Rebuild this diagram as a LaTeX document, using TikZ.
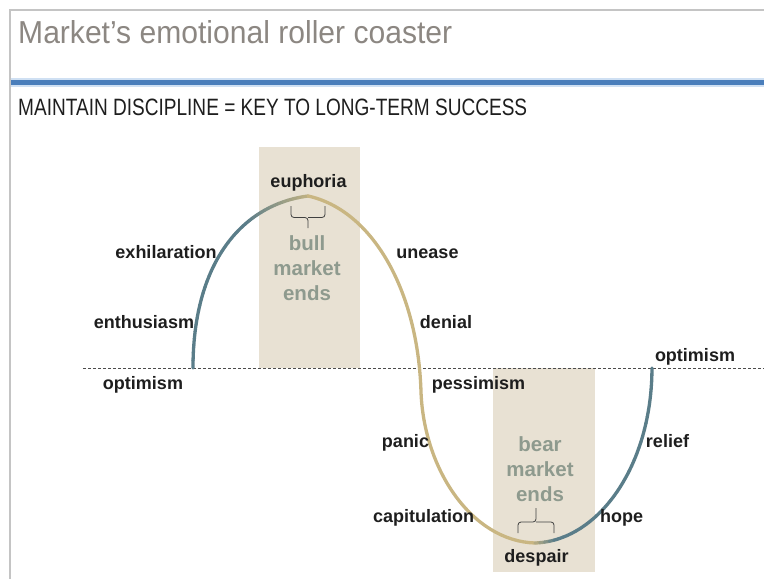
\documentclass[tikz,border=0pt]{standalone}
\usepackage{graphicx}
\usepackage{fontspec}
\setmainfont{Liberation Sans}
\definecolor{framegray}{HTML}{C4C4C4}
\definecolor{titlegray}{HTML}{8C8782}
\definecolor{barblue}{HTML}{4A7EBB}
\definecolor{barhalo}{HTML}{CFE0F3}
\definecolor{boxbeige}{HTML}{E8E1D3}
\definecolor{curveblue}{HTML}{5A7D89}
\definecolor{curvetan}{HTML}{C9B682}
\definecolor{endsgray}{HTML}{8E9A8E}
\definecolor{labelblack}{HTML}{1E1E1E}
\tikzset{
  lbl/.style={font=\fontsize{18}{20}\selectfont\bfseries, text=labelblack, inner sep=0pt, anchor=mid},
  endslbl/.style={font=\fontsize{20.5}{25}\selectfont\bfseries, text=endsgray, inner sep=0pt, align=center},
  curve/.style={line width=3.3pt, line cap=round, line join=round},
  bracebox/.style={draw=black!75, line width=0.8pt, rounded corners=3pt},
  shade/.style={fill=boxbeige, draw=none}
}
\begin{document}
\begin{tikzpicture}[x=1pt,y=1pt]
\useasboundingbox (0,0) rectangle (764,-579);
% frame
\draw[framegray, line width=2.5pt] (10,-579) -- (10,-10) -- (764,-10);
% title
\node[anchor=base west, inner sep=0pt, text=titlegray] (title) at (18,-43)
  {\resizebox{434pt}{23pt}{\fontsize{28}{30}\selectfont Market’s emotional roller coaster}};
% blue bar
\fill[barhalo] (11.3,-77.5) rectangle (764,-87);
\fill[barblue] (11.3,-79.5) rectangle (764,-85);
% subtitle
\node[anchor=base west, inner sep=0pt, text=labelblack] (subtitle) at (18,-115)
  {\resizebox{509pt}{16.5pt}{\fontsize{18.6}{20}\selectfont MAINTAIN DISCIPLINE = KEY TO LONG-TERM SUCCESS}};
% shaded boxes
\fill[shade] (259,-147) rectangle (360,-368);
\fill[shade] (493,-368) rectangle (595,-572);
% dashed baseline
\draw[black!70, line width=0.9pt, dash pattern=on 3pt off 2pt] (83,-368) -- (764,-368);
% left rising arc (bezier (193,368) (193,265) (240,205) (308,196)), gradient to tan near the peak
\foreach \a in {0,0.025,...,0.98}{
  \pgfmathsetmacro\p{max(0,min(100,(1.03-\a)*100/0.38))}
  \pgfmathsetmacro\b{\a+0.025}
  \draw[curve, color=curveblue!\p!curvetan]
    plot[domain=\a:\b, samples=3, variable=\t]
    ({(1-\t)^3*193+3*(1-\t)^2*\t*193+3*(1-\t)*\t^2*240+\t^3*308},
     {-((1-\t)^3*368+3*(1-\t)^2*\t*265+3*(1-\t)*\t^2*205+\t^3*196)});
}
% descending tan part
\coordinate (peak) at (308,-196);
\coordinate (turn) at (421,-392);
\coordinate (bottom) at (535,-543);
\coordinate (rend) at (652,-368);
\draw[curve, curvetan] (peak) .. controls (372,-210) and (418,-290) .. (turn)
  .. controls (424,-470) and (472,-541) .. (bottom);
% rising blue part (bezier (535,543) (599,541) (652,465) (652,368))
\foreach \a in {0,0.025,...,0.98}{
  \pgfmathsetmacro\p{max(0,min(100,(\a+0.025)*100/0.12))}
  \pgfmathsetmacro\b{\a+0.025}
  \draw[curve, color=curveblue!\p!curvetan]
    plot[domain=\a:\b, samples=3, variable=\t]
    ({(1-\t)^3*535+3*(1-\t)^2*\t*599+3*(1-\t)*\t^2*652+\t^3*652},
     {-((1-\t)^3*543+3*(1-\t)^2*\t*541+3*(1-\t)*\t^2*465+\t^3*368)});
}
% braces
\draw[bracebox] (291,-206) |- (308,-217.5) -- (308,-228);
\draw[bracebox] (325,-206) |- (308,-217.5);
\draw[bracebox] (518,-533) |- (536,-522) -- (536,-508);
\draw[bracebox] (554,-533) |- (536,-522);
% market ends labels
\node[endslbl] (bull) at (307,-268) {bull\\market\\ends};
\node[endslbl] (bear) at (540,-469) {bear\\market\\ends};
% emotion labels
\node[lbl] (euphoria) at (308.5,-185) {euphoria};
\node[lbl] (exhilaration) at (166,-255.5) {exhilaration};
\node[lbl] (enthusiasm) at (144,-325.5) {enthusiasm};
\node[lbl] (optimismL) at (143,-386.5) {optimism};
\node[lbl] (unease) at (427.5,-255.5) {unease};
\node[lbl] (denial) at (446,-325.5) {denial};
\node[lbl] (pessimism) at (478.5,-386.5) {pessimism};
\node[lbl] (panic) at (405.5,-444.5) {panic};
\node[lbl] (capitulation) at (423.5,-519.5) {capitulation};
\node[lbl] (despair) at (536.5,-559.5) {despair};
\node[lbl] (hope) at (621.5,-519.5) {hope};
\node[lbl] (relief) at (667.5,-444.5) {relief};
\node[lbl] (optimismR) at (695,-359) {optimism};
\end{tikzpicture}
\end{document}
